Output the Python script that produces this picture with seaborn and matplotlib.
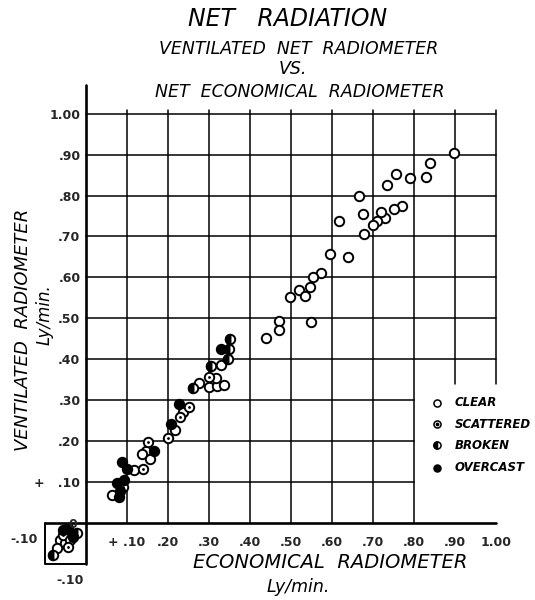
import numpy as np
import pandas as pd
import matplotlib
matplotlib.use('Agg')
import matplotlib.pyplot as plt
from matplotlib.path import Path
import seaborn as sns

sns.set_style('white')
plt.rcParams['font.family'] = ['DejaVu Sans']

clear_x = [0.898, 0.84, 0.83, 0.755, 0.79, 0.735, 0.77, 0.75, 0.73, 0.72, 0.71, 0.70,
           0.678, 0.665, 0.675, 0.617, 0.595, 0.639, 0.573, 0.554, 0.546, 0.519, 0.534,
           0.498, 0.549, 0.47, 0.47, 0.44, 0.276, 0.30, 0.319, 0.337, 0.317, 0.329,
           0.237, 0.217, 0.146, 0.136, 0.156, 0.117, 0.063, -0.063, -0.051, -0.071]
clear_y = [0.905, 0.88, 0.845, 0.853, 0.842, 0.825, 0.775, 0.767, 0.746, 0.76, 0.737, 0.727,
           0.707, 0.80, 0.755, 0.737, 0.658, 0.651, 0.61, 0.60, 0.576, 0.568, 0.554,
           0.551, 0.49, 0.493, 0.471, 0.451, 0.341, 0.332, 0.334, 0.337, 0.354, 0.385,
           0.271, 0.227, 0.176, 0.168, 0.156, 0.129, 0.068, -0.041, -0.049, -0.061]
scattered_x = [0.30, 0.251, 0.229, 0.20, 0.151, 0.139, 0.09, -0.056, -0.039, -0.044]
scattered_y = [0.356, 0.283, 0.258, 0.207, 0.198, 0.132, 0.088, -0.029, -0.041, -0.059]
broken_x = [0.351, 0.349, 0.347, 0.305, 0.261, -0.022, -0.08]
broken_y = [0.449, 0.424, 0.40, 0.383, 0.329, -0.024, -0.078]
overcast_x = [0.33, 0.227, 0.207, 0.166, 0.088, 0.10, 0.093, 0.075, 0.082, 0.08,
              -0.056, -0.044, -0.032]
overcast_y = [0.424, 0.29, 0.241, 0.176, 0.149, 0.132, 0.105, 0.098, 0.078, 0.063,
              -0.017, -0.012, -0.034]

sky_names = ['CLEAR', 'SCATTERED', 'BROKEN', 'OVERCAST']
ticks = [0.1, 0.2, 0.3, 0.4, 0.5, 0.6, 0.7, 0.8, 0.9, 1.0]
tick_labels = ['+ .10', '.20', '.30', '.40', '.50', '.60', '.70', '.80', '.90', '1.00']

df = pd.concat([
    pd.DataFrame({'econ': clear_x, 'vent': clear_y, 'sky': 'CLEAR'}),
    pd.DataFrame({'econ': scattered_x, 'vent': scattered_y, 'sky': 'SCATTERED'}),
    pd.DataFrame({'econ': broken_x, 'vent': broken_y, 'sky': 'BROKEN'}),
    pd.DataFrame({'econ': overcast_x, 'vent': overcast_y, 'sky': 'OVERCAST'}),
])

half_disk = Path.wedge(90, 270)  # left half filled -> broken
S, LW = 46, 1.4
ital = dict(fontstyle='italic', color='k')

fig = plt.figure(figsize=(5.35, 6), dpi=100)
ax = fig.add_axes([86/535, 77/600, 410/535, 438/600])
ax.set_xlim(0, 1)
ax.set_ylim(0, 1.07)
for s in ax.spines.values():
    s.set_visible(False)

# hand drawn grid: blank corner on the lower right holds the key
for v in ticks:
    y0 = 0.34 if v > 0.85 else 0.0
    ax.plot([v, v], [y0, 1.01], color='k', lw=1.1, clip_on=False)
for h in ticks:
    x1 = 0.8 if h < 0.35 else 1.0
    ax.plot([0, x1], [h, h], color='k', lw=1.1, clip_on=False)
ax.plot([0, 0], [-0.1, 1.07], color='k', lw=1.9, clip_on=False)
ax.plot([-0.1, 1.0], [0, 0], color='k', lw=1.9, clip_on=False)
ax.plot([-0.1, -0.1, 0], [0, -0.1, -0.1], color='k', lw=1.4, clip_on=False)

# points
open_kw = dict(marker='o', s=S, facecolor='white', edgecolor='k', linewidth=LW,
               clip_on=False, zorder=3, legend=False)
sub = df[df.sky == 'CLEAR']
sns.scatterplot(data=sub, x='econ', y='vent', ax=ax, **open_kw)
sub = df[df.sky == 'SCATTERED']
sns.scatterplot(data=sub, x='econ', y='vent', ax=ax, **open_kw)
sns.scatterplot(data=sub, x='econ', y='vent', ax=ax, marker='o', s=4, color='k',
                linewidth=0, clip_on=False, zorder=4, legend=False)
sub = df[df.sky == 'BROKEN']
sns.scatterplot(data=sub, x='econ', y='vent', ax=ax, **open_kw)
sns.scatterplot(data=sub, x='econ', y='vent', ax=ax, marker=half_disk, s=S, color='k',
                edgecolor='k', linewidth=LW, clip_on=False, zorder=4, legend=False)
sub = df[df.sky == 'OVERCAST']
sns.scatterplot(data=sub, x='econ', y='vent', ax=ax, marker='o', s=S, color='k',
                edgecolor='k', linewidth=LW, clip_on=False, zorder=3, legend=False)

# key
key_y = [0.274, 0.226, 0.178, 0.126]
for name, ky in zip(sky_names, key_y):
    if name == 'OVERCAST':
        ax.scatter(0.855, ky, s=26, color='k', transform=ax.transAxes, clip_on=False, zorder=5)
    else:
        ax.scatter(0.855, ky, s=26, facecolor='white', edgecolor='k', linewidth=1.1,
                   transform=ax.transAxes, clip_on=False, zorder=5)
    if name == 'SCATTERED':
        ax.scatter(0.855, ky, s=3, color='k', transform=ax.transAxes, clip_on=False, zorder=6)
    if name == 'BROKEN':
        ax.scatter(0.855, ky, s=26, marker=half_disk, color='k', linewidth=1.1,
                   transform=ax.transAxes, clip_on=False, zorder=6)
    ax.text(0.9, ky, name, transform=ax.transAxes, va='center', ha='left',
            fontsize=8.5, fontweight='bold', **ital)

# ticks
ax.set_xticks(ticks, tick_labels)
ax.set_yticks(ticks, [t.replace('+ ', '+   ') for t in tick_labels])
ax.tick_params(length=0, labelsize=9)
ax.tick_params(axis='x', pad=9)
ax.tick_params(axis='y', pad=4)
for t in ax.get_xticklabels() + ax.get_yticklabels():
    t.set_fontweight('bold')
ax.set_xlabel('')
ax.set_ylabel('')
ax.text(-0.15, -0.04, '-.10', ha='center', va='center', fontsize=9, fontweight='bold', clip_on=False)
ax.text(-0.04, -0.14, '-.10', ha='center', va='center', fontsize=9, fontweight='bold', clip_on=False)
ax.text(-0.032, -0.004, '0', ha='center', va='center', fontsize=9, fontweight='bold', clip_on=False)

# titles
fig.text(0.538, 0.968, 'NET   RADIATION', ha='center', va='center', fontsize=17, **ital)
fig.text(0.559, 0.918, 'VENTILATED  NET  RADIOMETER', ha='center', va='center', fontsize=12.5, **ital)
fig.text(0.548, 0.885, 'VS.', ha='center', va='center', fontsize=12.5, **ital)
fig.text(0.561, 0.847, 'NET  ECONOMICAL  RADIOMETER', ha='center', va='center', fontsize=12.5, **ital)

fig.text(0.617, 0.063, 'ECONOMICAL  RADIOMETER', ha='center', va='center', fontsize=14, **ital)
fig.text(0.557, 0.022, 'Ly/min.', ha='center', va='center', fontsize=12.5, **ital)
fig.text(0.043, 0.45, 'VENTILATED  RADIOMETER', ha='center', va='center', rotation=90,
         fontsize=13, **ital)
fig.text(0.084, 0.475, 'Ly/min.', ha='center', va='center', rotation=90, fontsize=12, **ital)

fig.savefig('out.png', dpi=100)
